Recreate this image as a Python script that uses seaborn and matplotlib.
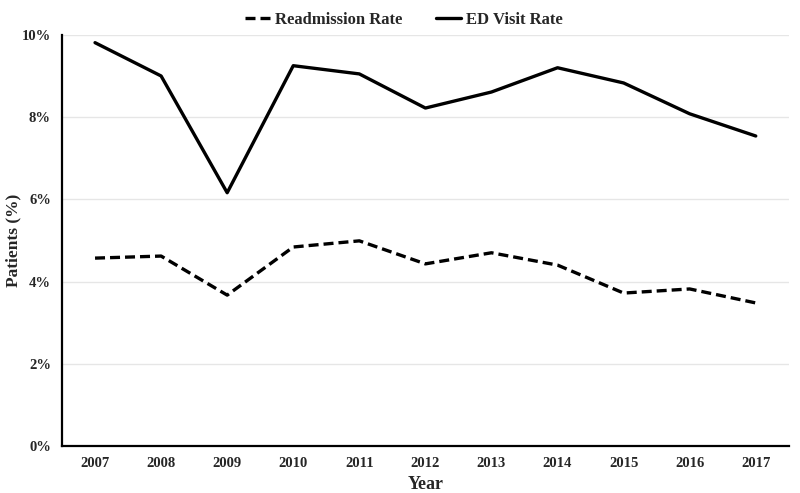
import numpy as np
import pandas as pd
import matplotlib
matplotlib.use('Agg')
import matplotlib.pyplot as plt
import seaborn as sns

# data
years = ['2007', '2008', '2009', '2010', '2011', '2012', '2013', '2014', '2015', '2016', '2017']
readmission = [4.57, 4.62, 3.67, 4.84, 4.99, 4.43, 4.70, 4.40, 3.72, 3.82, 3.48]
ed_visit = [9.81, 9.00, 6.16, 9.25, 9.05, 8.22, 8.61, 9.20, 8.83, 8.08, 7.54]
series_names = ['Readmission Rate', 'ED Visit Rate']

df = pd.DataFrame({
    'Year': years * 2,
    'Rate': readmission + ed_visit,
    'Series': [series_names[0]] * len(years) + [series_names[1]] * len(years),
})

sns.set_style('white')
plt.rcParams['font.family'] = ['Liberation Serif', 'DejaVu Serif']
plt.rcParams['font.weight'] = 'bold'

fig = plt.figure(figsize=(8, 4.93), dpi=100)
ax = fig.add_axes([0.0775, 0.0953, 0.9085, 0.834])

sns.lineplot(data=df, x='Year', y='Rate', hue='Series', style='Series',
             hue_order=series_names, style_order=series_names,
             palette=['black', 'black'], dashes={series_names[0]: (3, 1.5), series_names[1]: ''},
             linewidth=2.4, sort=False, ax=ax)

ax.set_xlim(-0.5, len(years) - 0.5)
ax.set_ylim(0, 10)
ax.set_yticks([0, 2, 4, 6, 8, 10])
ax.set_yticklabels(['0%', '2%', '4%', '6%', '8%', '10%'])
ax.yaxis.grid(True, color='#e6e6e6', linewidth=1)
ax.set_axisbelow(True)

for s in ['top', 'right']:
    ax.spines[s].set_visible(False)
for s in ['left', 'bottom']:
    ax.spines[s].set_color('black')
    ax.spines[s].set_linewidth(1.6)

ax.tick_params(axis='both', length=0, labelsize=10.5, pad=8)
for t in ax.get_xticklabels() + ax.get_yticklabels():
    t.set_fontweight('bold')

ax.set_xlabel('Year', fontsize=13, fontweight='bold')
ax.xaxis.set_label_coords(0.5, -0.073)
ax.set_ylabel('Patients (%)', fontsize=12.5, fontweight='bold')
ax.yaxis.set_label_coords(-0.056, 0.5)

leg = ax.legend(loc='lower center', bbox_to_anchor=(0.47, 1.0), ncol=2, frameon=False,
                fontsize=12, handlelength=1.5, handletextpad=0.3, columnspacing=2.0,
                borderaxespad=0)
for t in leg.get_texts():
    t.set_fontweight('bold')

fig.savefig('out.png', dpi=100)
